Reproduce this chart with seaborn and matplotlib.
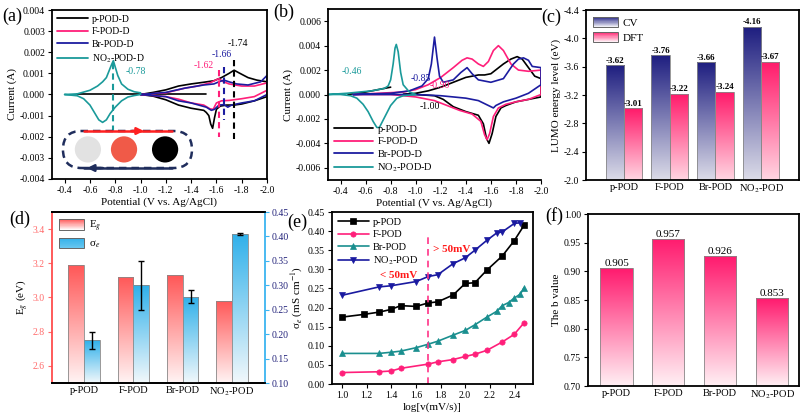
import numpy as np
import pandas as pd
import matplotlib
matplotlib.use("Agg")
import matplotlib.pyplot as plt
import seaborn as sns
from matplotlib.patches import Rectangle, FancyBboxPatch, Patch, Ellipse, FancyArrowPatch
from matplotlib.legend_handler import HandlerBase
from matplotlib.lines import Line2D
from matplotlib.colors import to_rgba
from matplotlib.ticker import FormatStrFormatter

# ---------------- data ----------------
series_names = ["p-POD-D", "F-POD-D", "Br-POD-D", "NO$_2$-POD-D"]
cats = ["p-POD", "F-POD", "Br-POD", "NO$_2$-POD"]

# (a) CV curves, mono-substituted
a_p0_x = [-0.5, -1.52]
a_p0_y = [0.0, 0.0]
a_p_x = [-1.0, -1.1, -1.2, -1.3, -1.4, -1.5, -1.58, -1.64, -1.70, -1.74, -1.78, -1.85, -1.92, -2.0,
         -2.0, -1.9, -1.8, -1.74, -1.68, -1.63, -1.60, -1.585, -1.57, -1.555, -1.54, -1.52, -1.5,
         -1.4, -1.3, -1.2, -1.1, -1.0]
a_p_y = [0.0, 0.0001, 0.00022, 0.0004, 0.0005, 0.00058, 0.00065, 0.0008, 0.001, 0.00115, 0.00102,
         0.0008, 0.00068, 0.0006,
         -0.0001, -0.0003, -0.00045, -0.0005, -0.0005, -0.00055, -0.0007, -0.0011, -0.0016, -0.0014,
         -0.0010, -0.00085, -0.00075, -0.00065, -0.0005, -0.00025, -0.00008, 0.0]
a_f_x = [-1.0, -1.2, -1.35, -1.45, -1.55, -1.6, -1.62, -1.65, -1.7, -1.8, -1.9, -2.0,
         -2.0, -1.9, -1.8, -1.7, -1.64, -1.6, -1.575, -1.55, -1.5, -1.4, -1.3, -1.2, -1.0]
a_f_y = [0.0, 0.00008, 0.0003, 0.0004, 0.00055, 0.0007, 0.00075, 0.00062, 0.0005, 0.0004, 0.0004,
         0.00055,
         0.0002, -0.0001, -0.0002, -0.00028, -0.0003, -0.0004, -0.0007, -0.00068, -0.0005, -0.0004,
         -0.00022, -0.0001, 0.0]
a_br_x = [-1.0, -1.2, -1.35, -1.5, -1.58, -1.62, -1.66, -1.7, -1.76, -1.85, -1.95, -2.0,
          -2.0, -1.9, -1.8, -1.72, -1.69, -1.66, -1.62, -1.585, -1.56, -1.52, -1.4, -1.3, -1.2, -1.0]
a_br_y = [0.0, 0.0001, 0.0003, 0.00045, 0.0005, 0.0006, 0.00068, 0.0006, 0.0005, 0.00045, 0.0006,
          0.0009,
          0.0, -0.0003, -0.0004, -0.0005, -0.0006, -0.00048, -0.0005, -0.0007, -0.00075, -0.0006,
          -0.0004, -0.0003, -0.0001, 0.0]
a_no2_x = [-0.4, -0.5, -0.6, -0.66, -0.7, -0.73, -0.75, -0.77, -0.785, -0.8, -0.82, -0.85, -0.9,
           -0.95, -1.0,
           -1.0, -0.95, -0.9, -0.85, -0.8, -0.76, -0.73, -0.70, -0.67, -0.64, -0.6, -0.55, -0.5, -0.4]
a_no2_y = [0.0, 0.00003, 0.0002, 0.0004, 0.0006, 0.0008, 0.0011, 0.0014, 0.0016, 0.0013, 0.0009,
           0.0005, 0.00025, 0.00013, 0.00008,
           0.0, -0.00005, -0.00012, -0.0003, -0.0006, -0.0009, -0.0012, -0.00132, -0.0012, -0.0009,
           -0.0005, -0.0002, -0.00006, 0.0]
a_peaks = [-1.74, -1.62, -1.66, -0.78]

# (b) CV curves, di-substituted
b_p0_x = [-0.46, -0.6, -0.7, -0.8]
b_p0_y = [0.0, 0.0002, 0.0004, 0.0006]
b_p_x = [-0.9, -1.0, -1.1, -1.2, -1.3, -1.4, -1.5, -1.55, -1.6, -1.65, -1.7, -1.76, -1.81, -1.85,
         -1.9, -1.95, -2.0,
         -2.0, -1.9, -1.8, -1.72, -1.68, -1.64, -1.61, -1.585, -1.565, -1.54, -1.5, -1.4, -1.3,
         -1.22, -1.15, -1.0, -0.9]
b_p_y = [0.0, 0.0001, 0.0003, 0.0006, 0.001, 0.0014, 0.0016, 0.0016, 0.0017, 0.0021, 0.0025,
         0.0029, 0.0031, 0.0029, 0.0022, 0.0015, 0.0013,
         -0.0002, -0.0004, -0.0006, -0.0009, -0.0011, -0.0018, -0.0032, -0.0040, -0.0036, -0.0024,
         -0.0017, -0.0014, -0.0010, -0.0004, -0.0001, 0.0, 0.0]
b_f_x = [-0.5, -0.9, -1.0, -1.1, -1.2, -1.3, -1.37, -1.41, -1.45, -1.5, -1.54, -1.58, -1.62, -1.66,
         -1.7, -1.76, -1.82, -1.9, -2.0,
         -2.0, -1.9, -1.8, -1.72, -1.66, -1.62, -1.59, -1.57, -1.55, -1.52, -1.45, -1.35, -1.25,
         -1.15, -1.0, -0.8, -0.5]
b_f_y = [0.0, 0.0002, 0.0004, 0.0008, 0.0014, 0.0022, 0.0028, 0.0030, 0.0029, 0.0025, 0.0023,
         0.0027, 0.0036, 0.0040, 0.0036, 0.0025, 0.0020, 0.0019, 0.0020,
         0.0, -0.0004, -0.0006, -0.0008, -0.0011, -0.0018, -0.0032, -0.0037, -0.0033, -0.0022,
         -0.0016, -0.0013, -0.0009, -0.0005, -0.0002, 0.0, 0.0]
b_br_x = [-0.5, -0.8, -0.95, -1.05, -1.1, -1.125, -1.15, -1.17, -1.19, -1.22, -1.3, -1.36, -1.41,
          -1.45, -1.5, -1.6, -1.7, -1.78, -1.82, -1.86, -1.9, -1.93, -2.0,
          -2.0, -1.9, -1.8, -1.7, -1.64, -1.62, -1.58, -1.5, -1.4, -1.2, -1.0, -0.8, -0.5]
b_br_y = [0.0, 0.0001, 0.0003, 0.0007, 0.0013, 0.0025, 0.0047, 0.0030, 0.0015, 0.0010, 0.0012,
          0.0018, 0.0022, 0.0017, 0.0012, 0.0010, 0.0013, 0.0025, 0.0029, 0.0030, 0.0028, 0.0023,
          0.0022,
          0.0008, 0.0001, -0.0003, -0.0006, -0.0009, -0.0011, -0.0009, -0.0005, -0.0003, -0.0001,
          0.0, 0.0, 0.0]
b_no2_x = [-0.3, -0.45, -0.55, -0.65, -0.75, -0.78, -0.8, -0.82, -0.835, -0.845, -0.86, -0.88, -0.9,
           -0.95, -1.0,
           -1.0, -0.9, -0.85, -0.8, -0.76, -0.73, -0.71, -0.69, -0.66, -0.62, -0.58, -0.53, -0.48,
           -0.4, -0.3]
b_no2_y = [0.0, 0.0001, 0.0002, 0.0003, 0.0005, 0.0007, 0.0012, 0.0025, 0.0038, 0.0041, 0.0035,
           0.0018, 0.0008, 0.0002, 0.0,
           0.0, -0.0001, -0.0003, -0.0009, -0.0017, -0.0023, -0.0027, -0.0027, -0.0022, -0.0014,
           -0.0008, -0.0003, -0.0001, 0.0, 0.0]

# (c) LUMO levels
c_cv = [-3.62, -3.76, -3.66, -4.16]
c_dft = [-3.01, -3.22, -3.24, -3.67]

# (d) band gap & conductivity
d_eg = [3.19, 3.12, 3.13, 2.98]
d_sig = [0.187, 0.30, 0.277, 0.405]
d_sig_err = [0.017, 0.05, 0.013, 0.003]

# (e) conductivity vs scan rate
e_x_p = [1.0, 1.176, 1.301, 1.398, 1.477, 1.602, 1.699, 1.778, 1.903, 2.0, 2.079, 2.176, 2.301, 2.398, 2.477]
e_y_p = [0.175, 0.182, 0.188, 0.195, 0.205, 0.203, 0.212, 0.215, 0.233, 0.263, 0.265, 0.298, 0.335, 0.375, 0.415]
e_x_f = [1.0, 1.301, 1.398, 1.477, 1.699, 1.778, 1.903, 2.0, 2.079, 2.176, 2.301, 2.398, 2.477]
e_y_f = [0.030, 0.032, 0.034, 0.041, 0.052, 0.058, 0.064, 0.072, 0.078, 0.088, 0.110, 0.130, 0.160]
e_x_br = [1.0, 1.301, 1.398, 1.477, 1.602, 1.699, 1.778, 1.903, 2.0, 2.079, 2.176, 2.255, 2.301, 2.352, 2.398, 2.447, 2.477]
e_y_br = [0.080, 0.080, 0.083, 0.086, 0.095, 0.104, 0.112, 0.128, 0.140, 0.155, 0.175, 0.190, 0.205, 0.213, 0.225, 0.235, 0.252]
e_x_no2 = [1.0, 1.301, 1.398, 1.602, 1.699, 1.778, 1.903, 2.0, 2.079, 2.176, 2.255, 2.301, 2.398, 2.447]
e_y_no2 = [0.232, 0.254, 0.257, 0.268, 0.281, 0.286, 0.315, 0.330, 0.350, 0.376, 0.395, 0.398, 0.420, 0.422]
e_names = ["p-POD", "F-POD", "Br-POD", "NO$_2$-POD"]
e_threshold = np.log10(50)

# (f) b values
f_b = [0.905, 0.957, 0.926, 0.853]

# ---------------- style ----------------
sns.set_theme(style="ticks")
plt.rcParams.update({
    "font.family": ["Liberation Serif", "DejaVu Serif"],
    "mathtext.fontset": "stix",
    "axes.unicode_minus": False,
    "axes.edgecolor": "black", "axes.labelcolor": "black", "text.color": "black",
    "xtick.color": "black", "ytick.color": "black",
    "axes.linewidth": 1.3,
    "xtick.labelsize": 7, "ytick.labelsize": 7,
    "axes.labelsize": 8,
    "xtick.major.size": 3, "ytick.major.size": 3,
    "xtick.major.width": 0.8, "ytick.major.width": 0.8,
    "xtick.direction": "out", "ytick.direction": "out",
    "xtick.major.pad": 2, "ytick.major.pad": 2,
    "axes.labelpad": 2,
})

C_BLACK, C_PINK, C_NAVY, C_TEAL = "#000000", "#ff1f7a", "#1c1ca0", "#1a9a9a"
cv_colors = [C_BLACK, C_PINK, C_NAVY, C_TEAL]

W, H = 803, 415
fig = plt.figure(figsize=(W / 100, H / 100), dpi=100)
fig.patch.set_facecolor("white")


def px_axes(l, t, r, b):
    return fig.add_axes([l / W, 1 - b / H, (r - l) / W, (b - t) / H])


def gradient_bars(ax, bars, c_top, c_bot, base, z=0.8):
    ct = np.array(to_rgba(c_top))
    cb = np.array(to_rgba(c_bot))
    t = np.linspace(0, 1, 256)[:, None]
    img = (cb[None, :] * (1 - t) + ct[None, :] * t)[:, None, :]
    for p in bars:
        x0, w = p.get_x(), p.get_width()
        top = p.get_y() + p.get_height()
        im = ax.imshow(img, extent=(x0, x0 + w, base, top), origin="lower", aspect="auto",
                       zorder=z, interpolation="bilinear")
        im.set_clip_path(p)
        p.set_facecolor("none")
        p.set_zorder(z + 0.1)


class GradHandler(HandlerBase):
    def __init__(self, c_top, c_bot):
        super().__init__()
        self.ct = np.array(to_rgba(c_top))
        self.cb = np.array(to_rgba(c_bot))

    def create_artists(self, legend, orig_handle, xdescent, ydescent, width, height, fontsize, trans):
        n = 20
        arts = []
        for i in range(n):
            f = (i + 0.5) / n
            col = self.cb * (1 - f) + self.ct * f
            arts.append(Rectangle((-xdescent, -ydescent + i * height / n), width, height / n * 1.05,
                                  facecolor=col, edgecolor="none", transform=trans))
        arts.append(Rectangle((-xdescent, -ydescent), width, height, facecolor="none",
                              edgecolor="#666666", lw=0.7, transform=trans))
        return arts


# ---------------- (a) ----------------
axa = px_axes(52, 10, 267, 179)
sns.lineplot(x=a_p0_x, y=a_p0_y, sort=False, estimator=None, color=C_BLACK, lw=1.2, ax=axa)
for xs, ys, c in [(a_p_x, a_p_y, C_BLACK), (a_f_x, a_f_y, C_PINK),
                  (a_br_x, a_br_y, C_NAVY), (a_no2_x, a_no2_y, C_TEAL)]:
    sns.lineplot(x=xs, y=ys, sort=False, estimator=None, color=c, lw=1.2, ax=axa)
axa.set_xlim(-0.3, -2.0)
axa.set_xticks(np.round(np.arange(-0.4, -2.01, -0.2), 1))
axa.xaxis.set_major_formatter(FormatStrFormatter("%.1f"))
axa.set_ylim(-0.004, 0.004)
axa.set_yticks(np.round(np.arange(-0.004, 0.00401, 0.001), 4))
axa.yaxis.set_major_formatter(FormatStrFormatter("%.3f"))
axa.set_xlabel("Potential (V vs. Ag/AgCl)")
axa.set_ylabel("Current (A)")
axa.legend(handles=[Line2D([], [], color=c, lw=1.3) for c in cv_colors], labels=series_names,
           loc="upper left", frameon=False, fontsize=7, handlelength=3.2, labelspacing=0.35,
           borderaxespad=0.1, handletextpad=0.4)

# peak markers
dash_spans = [(0.00164, -0.0021), (0.00116, -0.0020), (0.0013, -0.0012), (0.0015, -0.0018)]
for xv, c, (y0, y1) in zip(a_peaks, cv_colors, dash_spans):
    axa.plot([xv, xv], [y0, y1], ls=(0, (3, 2)), lw=1.5, color=c)
axa.text(-1.77, 0.0024, "-1.74", color=C_BLACK, fontsize=7, ha="center", va="center")
axa.text(-1.50, 0.00135, "-1.62", color=C_PINK, fontsize=7, ha="center", va="center")
axa.text(-1.64, 0.00187, "-1.66", color=C_NAVY, fontsize=7, ha="center", va="center")
axa.text(-0.96, 0.0011, "-0.78", color=C_TEAL, fontsize=7, ha="center", va="center")

# schematic inset
st = FancyBboxPatch((0.051, 0.065), 0.60, 0.219,
                    boxstyle="round,pad=0,rounding_size=0.086", mutation_aspect=1.27,
                    transform=axa.transAxes, facecolor="none", edgecolor="#1f2d5c",
                    lw=1.8, ls=(0, (3, 2)), zorder=3)
axa.add_patch(st)
for cx, col in [(0.167, "#e2e2e2"), (0.335, "#f05a48"), (0.526, "#000000")]:
    axa.add_patch(Ellipse((cx, 0.175), 0.122, 0.155, transform=axa.transAxes,
                          facecolor=col, edgecolor="none", zorder=4))
axa.plot([0.149, 0.558], [0.284, 0.284], transform=axa.transAxes, color="#ff2020", lw=1.8, zorder=5)
axa.add_patch(FancyArrowPatch((0.36, 0.284), (0.44, 0.284), transform=axa.transAxes,
                              arrowstyle="-|>", mutation_scale=10, color="#ff2020", lw=1.8, zorder=6))
axa.plot([0.149, 0.558], [0.065, 0.065], transform=axa.transAxes, color="#1f2d5c", lw=1.8, zorder=5)
axa.add_patch(FancyArrowPatch((0.25, 0.065), (0.15, 0.065), transform=axa.transAxes,
                              arrowstyle="-|>", mutation_scale=10, color="#1f2d5c", lw=1.8, zorder=6))

# ---------------- (b) ----------------
axb = px_axes(328, 9, 541, 180)
sns.lineplot(x=b_p0_x, y=b_p0_y, sort=False, estimator=None, color=C_BLACK, lw=1.2, ax=axb)
for xs, ys, c in [(b_p_x, b_p_y, C_BLACK), (b_f_x, b_f_y, C_PINK),
                  (b_br_x, b_br_y, C_NAVY), (b_no2_x, b_no2_y, C_TEAL)]:
    sns.lineplot(x=xs, y=ys, sort=False, estimator=None, color=c, lw=1.2, ax=axb)
axb.set_xlim(-0.3, -2.0)
axb.set_xticks(np.round(np.arange(-0.4, -2.01, -0.2), 1))
axb.xaxis.set_major_formatter(FormatStrFormatter("%.1f"))
axb.set_ylim(-0.007, 0.007)
axb.set_yticks(np.round(np.arange(-0.006, 0.00601, 0.002), 4))
axb.yaxis.set_major_formatter(FormatStrFormatter("%.3f"))
axb.set_xlabel("Potential (V vs. Ag/AgCl)")
axb.set_ylabel("Current (A)")
axb.spines["right"].set_visible(False)
axb.legend(handles=[Line2D([], [], color=c, lw=1.3) for c in cv_colors], labels=series_names,
           loc="lower left", frameon=False, fontsize=7.5, handlelength=3.8, labelspacing=0.3,
           borderaxespad=0.15, handletextpad=0.4)
axb.text(-0.49, 0.0019, "-0.46", color=C_TEAL, fontsize=7, ha="center", va="center")
axb.text(-1.12, 0.0013, "-0.85", color=C_NAVY, fontsize=7, ha="right", va="center")
axb.text(-1.19, 0.0007, "-0.90", color=C_PINK, fontsize=7, ha="center", va="center")
axb.text(-1.11, -0.00095, "-1.00", color=C_BLACK, fontsize=7, ha="center", va="center")

# ---------------- (c) ----------------
axc = px_axes(586, 10, 799, 180)
df_c = pd.DataFrame({"mol": cats * 2, "E": c_cv + c_dft, "method": ["CV"] * 4 + ["DFT"] * 4})
sns.barplot(data=df_c, x="mol", y="E", hue="method", ax=axc, width=0.8, errorbar=None,
            palette=["#1e1e82", "#ff1f6e"], edgecolor="#888888", linewidth=0.6, legend=False)
axc.set_ylim(-2.0, -4.4)
cv_top, cv_bot = "#1e1e80", "#dcdce8"
dft_top, dft_bot = "#ff1a6a", "#ffd6e2"
gradient_bars(axc, axc.containers[0], cv_top, cv_bot, -2.0)
gradient_bars(axc, axc.containers[1], dft_top, dft_bot, -2.0)
for cont, vals in zip(axc.containers[:2], [c_cv, c_dft]):
    for bar, v in zip(cont, vals):
        axc.annotate(f"{v:.2f}", (bar.get_x() + bar.get_width() / 2, v), xytext=(0, 0.5),
                     textcoords="offset points", ha="center", va="bottom", fontsize=6.5,
                     fontweight="bold")
axc.set_xlim(-0.83, 3.83)
axc.set_ylim(-2.0, -4.4)
axc.set_yticks(np.round(np.arange(-2.0, -4.41, -0.4), 1))
axc.yaxis.set_major_formatter(FormatStrFormatter("%.1f"))
axc.set_xlabel("")
axc.set_ylabel("LUMO energy level (eV)")
axc.tick_params(axis="x", length=0, labelsize=7.5)
hc1, hc2 = Patch(), Patch()
axc.legend(handles=[hc1, hc2], labels=["CV", "DFT"], loc="upper left", frameon=False, fontsize=8,
           handler_map={hc1: GradHandler(cv_top, "#ffffff"), hc2: GradHandler(dft_top, "#ffffff")},
           handlelength=2.3, handleheight=1.1, labelspacing=0.35, borderaxespad=0.2,
           handletextpad=0.4)

# ---------------- (d) ----------------
axd = px_axes(52, 212, 265, 383)
sns.barplot(x=cats, y=d_eg, ax=axd, width=0.32, errorbar=None, color="#ff5a5a",
            edgecolor="#888888", linewidth=0.6)
for p in axd.containers[0]:
    p.set_x(p.get_x() - 0.16)
axd.set_ylim(2.5, 3.5)
eg_top, eg_bot = "#ff5757", "#fff4f4"
gradient_bars(axd, axd.containers[0], eg_top, eg_bot, 2.5)
axd2 = axd.twinx()
sns.barplot(x=cats, y=d_sig, ax=axd2, width=0.32, errorbar=None, color="#35b0e8",
            edgecolor="#888888", linewidth=0.6)
for p in axd2.containers[0]:
    p.set_x(p.get_x() + 0.16)
axd2.set_ylim(0.10, 0.45)
sg_top, sg_bot = "#2fb0ea", "#f2f8fb"
gradient_bars(axd2, axd2.containers[0], sg_top, sg_bot, 0.10)
axd2.errorbar(np.arange(4) + 0.16, d_sig, yerr=d_sig_err, fmt="none", ecolor="black",
              elinewidth=1.0, capsize=2, capthick=1.0, zorder=5)
axd.set_xlim(-0.65, 3.67)
axd.set_ylim(2.5, 3.5)
axd2.set_ylim(0.10, 0.45)
axd.set_yticks([2.6, 2.8, 3.0, 3.2, 3.4])
axd.yaxis.set_major_formatter(FormatStrFormatter("%.1f"))
axd2.set_yticks(np.round(np.arange(0.10, 0.451, 0.05), 2))
axd2.yaxis.set_major_formatter(FormatStrFormatter("%.2f"))
axd.set_ylabel("E$_g$ (eV)")
axd.set_xlabel("")
axd2.set_ylabel("")
axd.spines["left"].set_color("#ff4d4d")
axd.spines["right"].set_visible(False)
axd2.spines["left"].set_visible(False)
axd2.spines["right"].set_color("#3cb4f0")
axd.tick_params(axis="y", colors="#ff6b6b", labelcolor="#ff6b6b")
axd2.tick_params(axis="y", colors="#3cb4f0", labelcolor="#22227a")
axd.tick_params(axis="x", length=0, labelsize=7.5)
hd1, hd2 = Patch(), Patch()
axd2.legend(handles=[hd1, hd2], labels=["E$_g$", "σ$_e$"], loc="upper left", frameon=False, fontsize=8,
            handler_map={hd1: GradHandler(eg_top, "#ffffff"), hd2: GradHandler(sg_top, "#6cc8f0")},
            handlelength=2.3, handleheight=1.1, labelspacing=0.35, borderaxespad=0.2,
            handletextpad=0.4)

# ---------------- (e) ----------------
axe = px_axes(332, 212, 533, 384)
e_colors = [C_BLACK, C_PINK, "#1a8f8f", "#1a1aa0"]
e_markers = ["s", "o", "^", "v"]
for xs, ys, c, m, lab in zip([e_x_p, e_x_f, e_x_br, e_x_no2], [e_y_p, e_y_f, e_y_br, e_y_no2],
                             e_colors, e_markers, e_names):
    sns.lineplot(x=xs, y=ys, sort=False, estimator=None, color=c, lw=1.2, marker=m, markersize=3.8,
                 markeredgecolor=c, markeredgewidth=0.5, ax=axe, label=lab)
axe.plot([e_threshold, e_threshold], [0.0, 0.39], ls=(0, (4, 3)), color="#ff3388", lw=1.2)
axe.text(1.74, 0.353, "> 50mV", color="#ff1a1a", fontsize=8, fontweight="bold", ha="left", va="center")
axe.text(1.46, 0.284, "< 50mV", color="#ff1a1a", fontsize=8, fontweight="bold", ha="center", va="center")
axe.set_xlim(0.92, 2.55)
axe.set_ylim(0.0, 0.45)
axe.set_xticks(np.round(np.arange(1.0, 2.41, 0.2), 1))
axe.xaxis.set_major_formatter(FormatStrFormatter("%.1f"))
axe.set_yticks(np.round(np.arange(0.0, 0.451, 0.05), 2))
axe.yaxis.set_major_formatter(FormatStrFormatter("%.2f"))
axe.set_xlabel("log[v(mV/s)]")
axe.set_ylabel("σ$_e$ (mS cm$^{-1}$)")
axe.legend(loc="upper left", frameon=False, fontsize=7.5, handlelength=3.0, labelspacing=0.3,
           borderaxespad=0.15, handletextpad=0.4)

# ---------------- (f) ----------------
axf = px_axes(588, 214, 799, 386)
sns.barplot(x=cats, y=f_b, ax=axf, width=0.62, errorbar=None, color="#ff1f6e",
            edgecolor="#888888", linewidth=0.6)
axf.set_ylim(0.70, 1.00)
gradient_bars(axf, axf.containers[0], "#ff1a6e", "#fff0f4", 0.70)
for bar, v in zip(axf.containers[0], f_b):
    axf.annotate(f"{v:.3f}", (bar.get_x() + bar.get_width() / 2, v), xytext=(0, 0),
                 textcoords="offset points", ha="center", va="bottom", fontsize=8)
axf.set_xlim(-0.55, 3.52)
axf.set_ylim(0.70, 1.00)
axf.set_yticks(np.round(np.arange(0.70, 1.001, 0.05), 2))
axf.yaxis.set_major_formatter(FormatStrFormatter("%.2f"))
axf.set_xlabel("")
axf.set_ylabel("The b value")
axf.tick_params(axis="x", length=0, labelsize=7.5)

# panel letters
for txt, x, y in [("(a)", 12, 16), ("(b)", 284, 12), ("(c)", 551, 17),
                  ("(d)", 20, 219), ("(e)", 297, 222), ("(f)", 554, 216)]:
    fig.text(x / W, 1 - y / H, txt, fontsize=13, ha="center", va="center")

fig.savefig("out.png", dpi=100, facecolor="white")
